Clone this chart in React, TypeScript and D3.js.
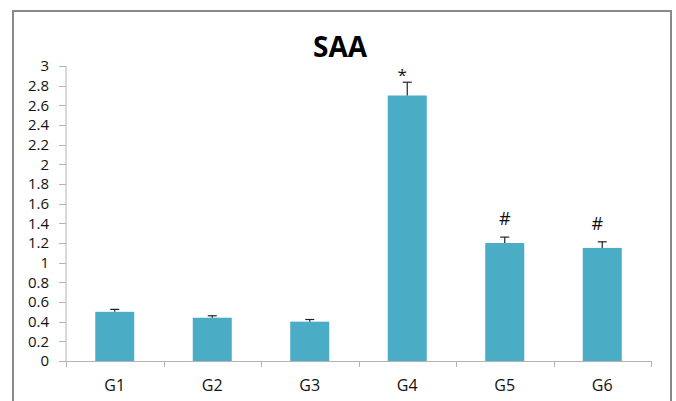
import React from "react";
import * as d3 from "d3";

const groups = ["G1", "G2", "G3", "G4", "G5", "G6"];
const means = [0.5, 0.44, 0.4, 2.7, 1.2, 1.15];
const errors = [0.025, 0.02, 0.022, 0.135, 0.06, 0.062];
const marks = ["", "", "", "*", "#", "#"];
const yTicks = [0, 0.2, 0.4, 0.6, 0.8, 1, 1.2, 1.4, 1.6, 1.8, 2, 2.2, 2.4, 2.6, 2.8, 3];

const W = 676;
const H = 401;
const plot = { left: 66, right: 651, top: 66, bottom: 361 };
const markShift = [0, 0, 0, -5, 0, -5];

export default function App() {
  const x = d3.scaleBand<string>().domain(groups).range([plot.left, plot.right]).paddingInner(0).paddingOuter(0);
  const y = d3.scaleLinear().domain([0, 3]).range([plot.bottom, plot.top]);
  const barW = x.bandwidth() * 0.4;
  const font = "'Open Sans', 'Liberation Sans', sans-serif";
  const fmt = d3.format("~g");

  return (
    <svg width={W} height={H} style={{ position: "absolute", left: 0, top: 0, background: "#fff" }}>
      <rect x={13} y={11} width={658} height={400} fill="#fff" stroke="#8a8a8a" strokeWidth={2} />
      <text x={340} y={57} textAnchor="middle" fontFamily={font} fontWeight={700} fontSize={28} fill="#000">
        SAA
      </text>
      {/* y axis */}
      <line x1={plot.left} x2={plot.left} y1={plot.top} y2={plot.bottom} stroke="#b3b3b3" />
      {yTicks.map((t) => (
        <g key={t}>
          <line x1={plot.left - 7} x2={plot.left} y1={Math.round(y(t)) + 0.5} y2={Math.round(y(t)) + 0.5} stroke="#b3b3b3" />
          <text x={49} y={y(t)} dy="0.36em" textAnchor="end" fontFamily={font} fontSize={15} fill="#111">
            {fmt(t)}
          </text>
        </g>
      ))}
      {/* x axis */}
      <line x1={plot.left} x2={plot.right} y1={plot.bottom + 0.5} y2={plot.bottom + 0.5} stroke="#b3b3b3" />
      {[...groups.map((g) => x(g) as number), plot.right].map((v, i) => (
        <line key={i} x1={Math.round(v) + 0.5} x2={Math.round(v) + 0.5} y1={plot.bottom} y2={plot.bottom + 6} stroke="#b3b3b3" />
      ))}
      {groups.map((g) => (
        <text key={g} x={(x(g) as number) + x.bandwidth() / 2} y={385} dy="0.36em" textAnchor="middle" fontFamily={font} fontSize={16} fill="#111">
          {g}
        </text>
      ))}
      {/* bars with upper error bars */}
      {groups.map((g, i) => {
        const cx = (x(g) as number) + x.bandwidth() / 2;
        const top = y(means[i] + errors[i]);
        return (
          <g key={g}>
            <rect x={cx - barW / 2} y={y(means[i])} width={barW} height={y(0) - y(means[i])} fill="#4bacc6" />
            <line x1={cx} x2={cx} y1={y(means[i])} y2={top} stroke="#222" strokeWidth={1.2} />
            <line x1={cx - 4.5} x2={cx + 4.5} y1={top} y2={top} stroke="#222" strokeWidth={1.2} />
            {marks[i] && (
              <text
                x={cx + markShift[i]}
                y={marks[i] === "*" ? top - 1 : top - 12}
                textAnchor="middle"
                fontFamily={font}
                fontSize={marks[i] === "*" ? 17 : 18}
                fill="#111"
              >
                {marks[i]}
              </text>
            )}
          </g>
        );
      })}
    </svg>
  );
}
